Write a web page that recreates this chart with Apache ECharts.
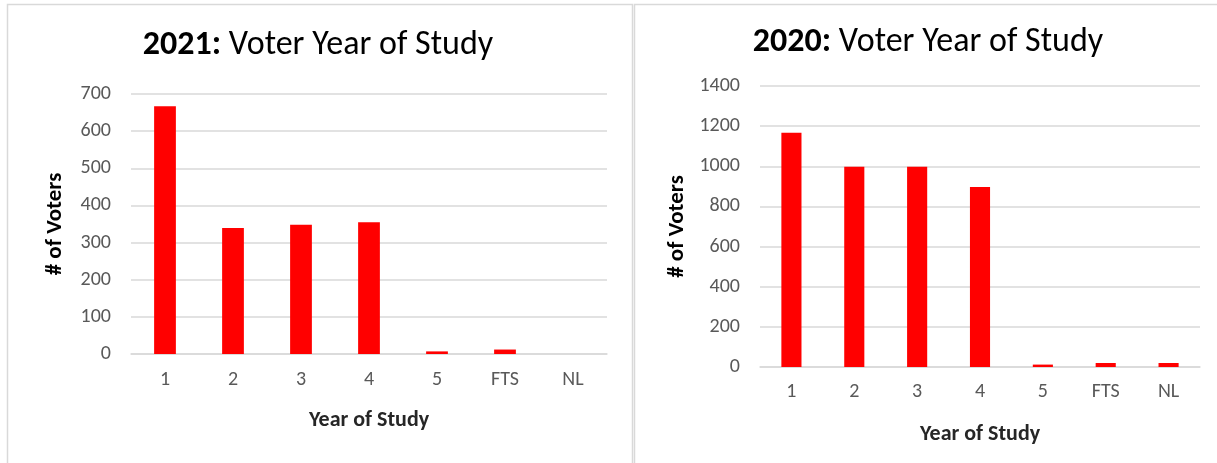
<!DOCTYPE html>
<html>
<head>
<meta charset="utf-8">
<script src="https://cdn.jsdelivr.net/npm/echarts@6/dist/echarts.min.js"></script>
<style>
html,body{margin:0;padding:0;background:#fff;}
#main{width:1217px;height:463px;}
</style>
</head>
<body>
<div id="main"></div>
<script>
const categories = ['1', '2', '3', '4', '5', 'FTS', 'NL'];
const values2021 = [667, 339, 348, 355, 7, 12, 0];
const values2020 = [1167, 998, 998, 897, 12, 20, 20];
const ticks2021 = { min: 0, max: 700, interval: 100 };
const ticks2020 = { min: 0, max: 1400, interval: 200 };

const FONT = "Carlito, 'Liberation Sans Narrow', 'Liberation Sans', sans-serif";
const chart = echarts.init(document.getElementById('main'), null, { renderer: 'canvas' });

function xAxis(gridIndex, margin, gap) {
  return {
    type: 'category', gridIndex, data: categories,
    axisLine: { show: true, lineStyle: { color: '#d9d9d9', width: 1.5 } },
    axisTick: { show: false },
    axisLabel: { color: '#595959', fontSize: 20, fontFamily: FONT, margin },
    name: 'Year of Study', nameLocation: 'middle', nameGap: gap,
    nameTextStyle: { color: '#262626', fontSize: 22, fontWeight: 'bold', fontFamily: FONT }
  };
}
function yAxis(gridIndex, t, gap) {
  return {
    type: 'value', gridIndex, min: t.min, max: t.max, interval: t.interval,
    axisLine: { show: false }, axisTick: { show: false },
    axisLabel: { color: '#595959', fontSize: 20, fontFamily: FONT, margin: 20, formatter: v => String(v) },
    splitLine: { lineStyle: { color: '#d9d9d9', width: 1.5 } },
    name: '# of Voters', nameLocation: 'middle', nameGap: gap,
    nameTextStyle: { color: '#000', fontSize: 23, fontWeight: 'bold', fontFamily: FONT }
  };
}
function titleRich(year) {
  return {
    text: '{b|' + year + ':}{r| Voter Year of Study}',
    padding: 0,
    textStyle: {
      fontWeight: 'normal',
      rich: {
        b: { fontSize: 34, fontWeight: 'bold', color: '#000', fontFamily: FONT },
        r: { fontSize: 34, fontWeight: 'normal', color: '#000', fontFamily: FONT }
      }
    }
  };
}

chart.setOption({
  animation: false,
  backgroundColor: '#fff',
  graphic: [
    { type: 'rect', shape: { x: 7.5, y: 4.5, width: 625, height: 470 }, style: { fill: 'none', stroke: '#d9d9d9', lineWidth: 1.5 }, silent: true },
    { type: 'rect', shape: { x: 634.5, y: 4.5, width: 600, height: 470 }, style: { fill: 'none', stroke: '#d9d9d9', lineWidth: 1.5 }, silent: true }
  ],
  title: [
    Object.assign(titleRich('2021'), { left: 318, top: 28, textAlign: 'center' }),
    Object.assign(titleRich('2020'), { left: 928, top: 25, textAlign: 'center' })
  ],
  grid: [
    { left: 131, right: 610, top: 94, bottom: 109 },
    { left: 760, right: 17, top: 86, bottom: 96 }
  ],
  xAxis: [xAxis(0, 16, 55), xAxis(1, 15, 56)],
  yAxis: [yAxis(0, ticks2021, 64), yAxis(1, ticks2020, 71)],
  series: [
    { type: 'bar', xAxisIndex: 0, yAxisIndex: 0, data: values2021, barWidth: '32%', itemStyle: { color: '#ff0000' } },
    { type: 'bar', xAxisIndex: 1, yAxisIndex: 1, data: values2020, barWidth: '32%', itemStyle: { color: '#ff0000' } }
  ]
});
</script>
</body>
</html>
